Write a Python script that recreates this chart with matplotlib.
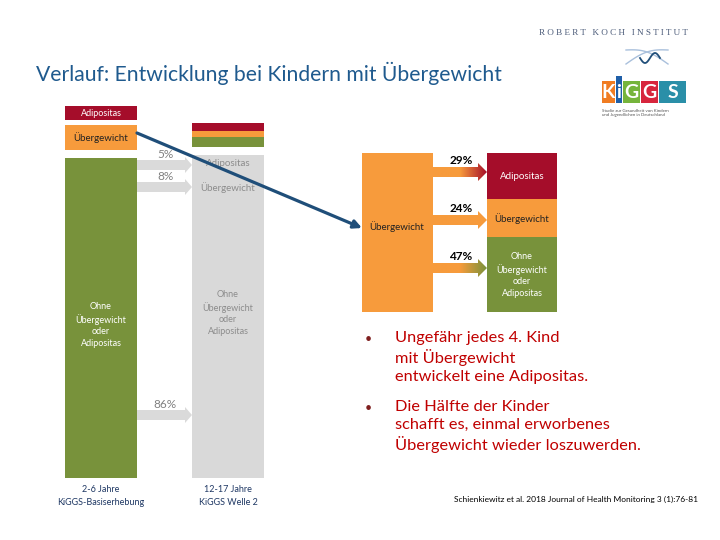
import matplotlib
matplotlib.use("Agg")
import matplotlib.pyplot as plt
import numpy as np
from matplotlib.patches import Rectangle, Polygon, FancyArrowPatch
from matplotlib.colors import LinearSegmentedColormap

plt.rcParams['font.family'] = ['Lato', 'DejaVu Sans']

# ---- data ----
title = "Verlauf: Entwicklung bei Kindern mit Übergewicht"
categories = ["Adipositas", "Übergewicht", "Ohne\nÜbergewicht\noder\nAdipositas"]
from_normal_pct = [5, 8, 86]          # 2-6 J. ohne Übergewicht -> 12-17 J.
from_overweight_pct = [29, 24, 47]    # 2-6 J. Übergewicht -> 12-17 J.
time_labels = ["2-6 Jahre\nKiGGS-Basiserhebung", "12-17 Jahre\nKiGGS Welle 2"]
bullets = ["Ungefähr jedes 4. Kind\nmit Übergewicht\nentwickelt eine Adipositas.",
           "Die Hälfte der Kinder\nschafft es, einmal erworbenes\nÜbergewicht wieder loszuwerden."]
citation = "Schienkiewitz et al. 2018 Journal of Health Monitoring 3 (1):76-81"

RED = "#A50D2A"
ORANGE = "#F79B3C"
GREEN = "#78923B"
GREY = "#D9D9D9"
BLUE = "#1F5A8E"
cat_colors = [RED, ORANGE, GREEN]

fig = plt.figure(figsize=(7.2, 5.4), dpi=100)
ax = fig.add_axes([0, 0, 1, 1])
ax.set_xlim(0, 720)
ax.set_ylim(540, 0)
ax.axis("off")

def rect(x0, y0, x1, y1, c, z=1):
    ax.add_patch(Rectangle((x0, y0), x1 - x0, y1 - y0, facecolor=c, edgecolor="none", zorder=z))

# title
ax.text(36, 73, title, fontsize=15.2, color=BLUE, ha="left", va="center")

# logo RKI
ax.text(613, 33, "R O B E R T   K O C H   I N S T I T U T", fontsize=6.6, color="#4A5A78",
        ha="center", va="center", family="Liberation Serif")
tt = np.linspace(0, 1, 50)
ax.plot(626 + 42 * tt, 50 + 14 * tt - 5 * np.sin(tt * np.pi), color="#A9C0DC", lw=1)
ax.plot(626 + 42 * tt, 64 - 14 * tt - 5 * np.sin(tt * np.pi), color="#A9C0DC", lw=1)
ax.plot(640 + 20 * tt, 58 + 5 * np.sin(tt * np.pi * 2), color="#1F4E79", lw=1.3)
# KiGGS logo
logo = [("K", 602, 615, "#F07C22"), ("i", 616, 622, "#1F5FA8"), ("G", 623, 640, "#76B43C"),
        ("G", 641, 658, "#D7263D"), ("S", 659, 686, "#2A8FA8")]
for ch, x0, x1, c in logo:
    top = 76 if ch == "i" else 81
    rect(x0, top, x1, 103, c)
    ax.text((x0 + x1) / 2, 92.5, ch, fontsize=14, color="white", fontweight="bold", ha="center", va="center")
ax.text(602, 113, "Studie zur Gesundheit von Kindern\nund Jugendlichen in Deutschland", fontsize=3.2,
        color="#555555", ha="left", va="center", linespacing=1.2)

# left column (2-6 years)
rect(65, 106, 137, 120, RED)
ax.text(101, 113, "Adipositas", fontsize=6.5, color="white", ha="center", va="center")
rect(65, 125, 137, 150, ORANGE)
ax.text(101, 137.5, "Übergewicht", fontsize=7, color="#222222", ha="center", va="center")
rect(65, 158, 137, 478, GREEN)
ax.text(101, 325, categories[2], fontsize=6.5, color="white", ha="center", va="center", linespacing=1.35)

# right column (12-17 years)
rect(192, 123, 264, 131, RED)
rect(192, 131, 264, 137, ORANGE)
rect(192, 137, 264, 147, GREEN)
rect(192, 155, 264, 478, GREY)
grey_txt = "#8C8C8C"
ax.text(228, 164, categories[0], fontsize=7, color=grey_txt, ha="center", va="center")
ax.text(228, 188, categories[1], fontsize=7, color=grey_txt, ha="center", va="center")
ax.text(228, 313, categories[2], fontsize=6.5, color=grey_txt, ha="center", va="center", linespacing=1.35)

# grey arrows
def block_arrow(x0, x1, yc, shaft_h, head_h, head_l, color, z=2):
    pts = [(x0, yc - shaft_h / 2), (x1 - head_l, yc - shaft_h / 2), (x1 - head_l, yc - head_h / 2),
           (x1, yc), (x1 - head_l, yc + head_h / 2), (x1 - head_l, yc + shaft_h / 2), (x0, yc + shaft_h / 2)]
    p = Polygon(pts, closed=True, facecolor=color, edgecolor="none", zorder=z)
    ax.add_patch(p)
    return p

grey_arrow_y = [165, 187, 415]
for pct, yc in zip(from_normal_pct, grey_arrow_y):
    block_arrow(137, 192, yc, 10, 16, 7, "#DADADA")
    ax.text(165, yc - 10, f"{pct}%", fontsize=8.5, color="#808080", ha="center", va="center")

for lab, x in zip(time_labels, [101, 228]):
    ax.text(x, 496, lab, fontsize=6.5, color="#1F3864", ha="center", va="center", linespacing=1.5)

# middle: overweight box
mid_top, mid_bot = 153, 312
rect(362, mid_top, 433, mid_bot, ORANGE)
ax.text(397, 227, "Übergewicht", fontsize=7, color="#222222", ha="center", va="center")

# right boxes scaled by percentages
total = sum(from_overweight_pct)
y = mid_top
label_cols = ["white", "#222222", "white"]
arrow_y = [172, 220, 268]
for i, pct in enumerate(from_overweight_pct):
    h = (mid_bot - mid_top) * pct / total
    rect(487, y, 557, y + h, cat_colors[i])
    ax.text(522, y + h / 2, categories[i], fontsize=6.5 if i == 2 else 7, color=label_cols[i],
            ha="center", va="center", linespacing=1.35)
    y += h
    # gradient arrow
    yc = arrow_y[i]
    p = block_arrow(433, 487, yc, 10, 18, 9, "none", z=2)
    cmap = LinearSegmentedColormap.from_list("g", [ORANGE, ORANGE, cat_colors[i]])
    grad = np.linspace(0, 1, 256).reshape(1, -1)
    im = ax.imshow(grad, cmap=cmap, extent=(433, 487, yc + 10, yc - 10), aspect="auto", zorder=2)
    im.set_clip_path(p)
    ax.text(461, yc - 12, f"{pct}%", fontsize=8.5, color="black", fontweight="bold", ha="center", va="center")

# blue connector arrow
ax.add_patch(FancyArrowPatch((137, 133), (362, 228), arrowstyle="-|>", mutation_scale=12,
                             color="#1F4E79", lw=2.3, zorder=5, shrinkA=0, shrinkB=0))

# bullet texts
RTXT = "#C00000"
for txt, yt in zip(bullets, [339, 408]):
    ax.text(368, yt, "•", fontsize=9, color="#7F1F1F", ha="center", va="center")
    ax.text(395, yt - 8, txt, fontsize=11.8, color=RTXT, ha="left", va="top", linespacing=1.32)

ax.text(576, 499, citation, fontsize=6, color="black", ha="center", va="center")

fig.savefig("out.png", dpi=100)
